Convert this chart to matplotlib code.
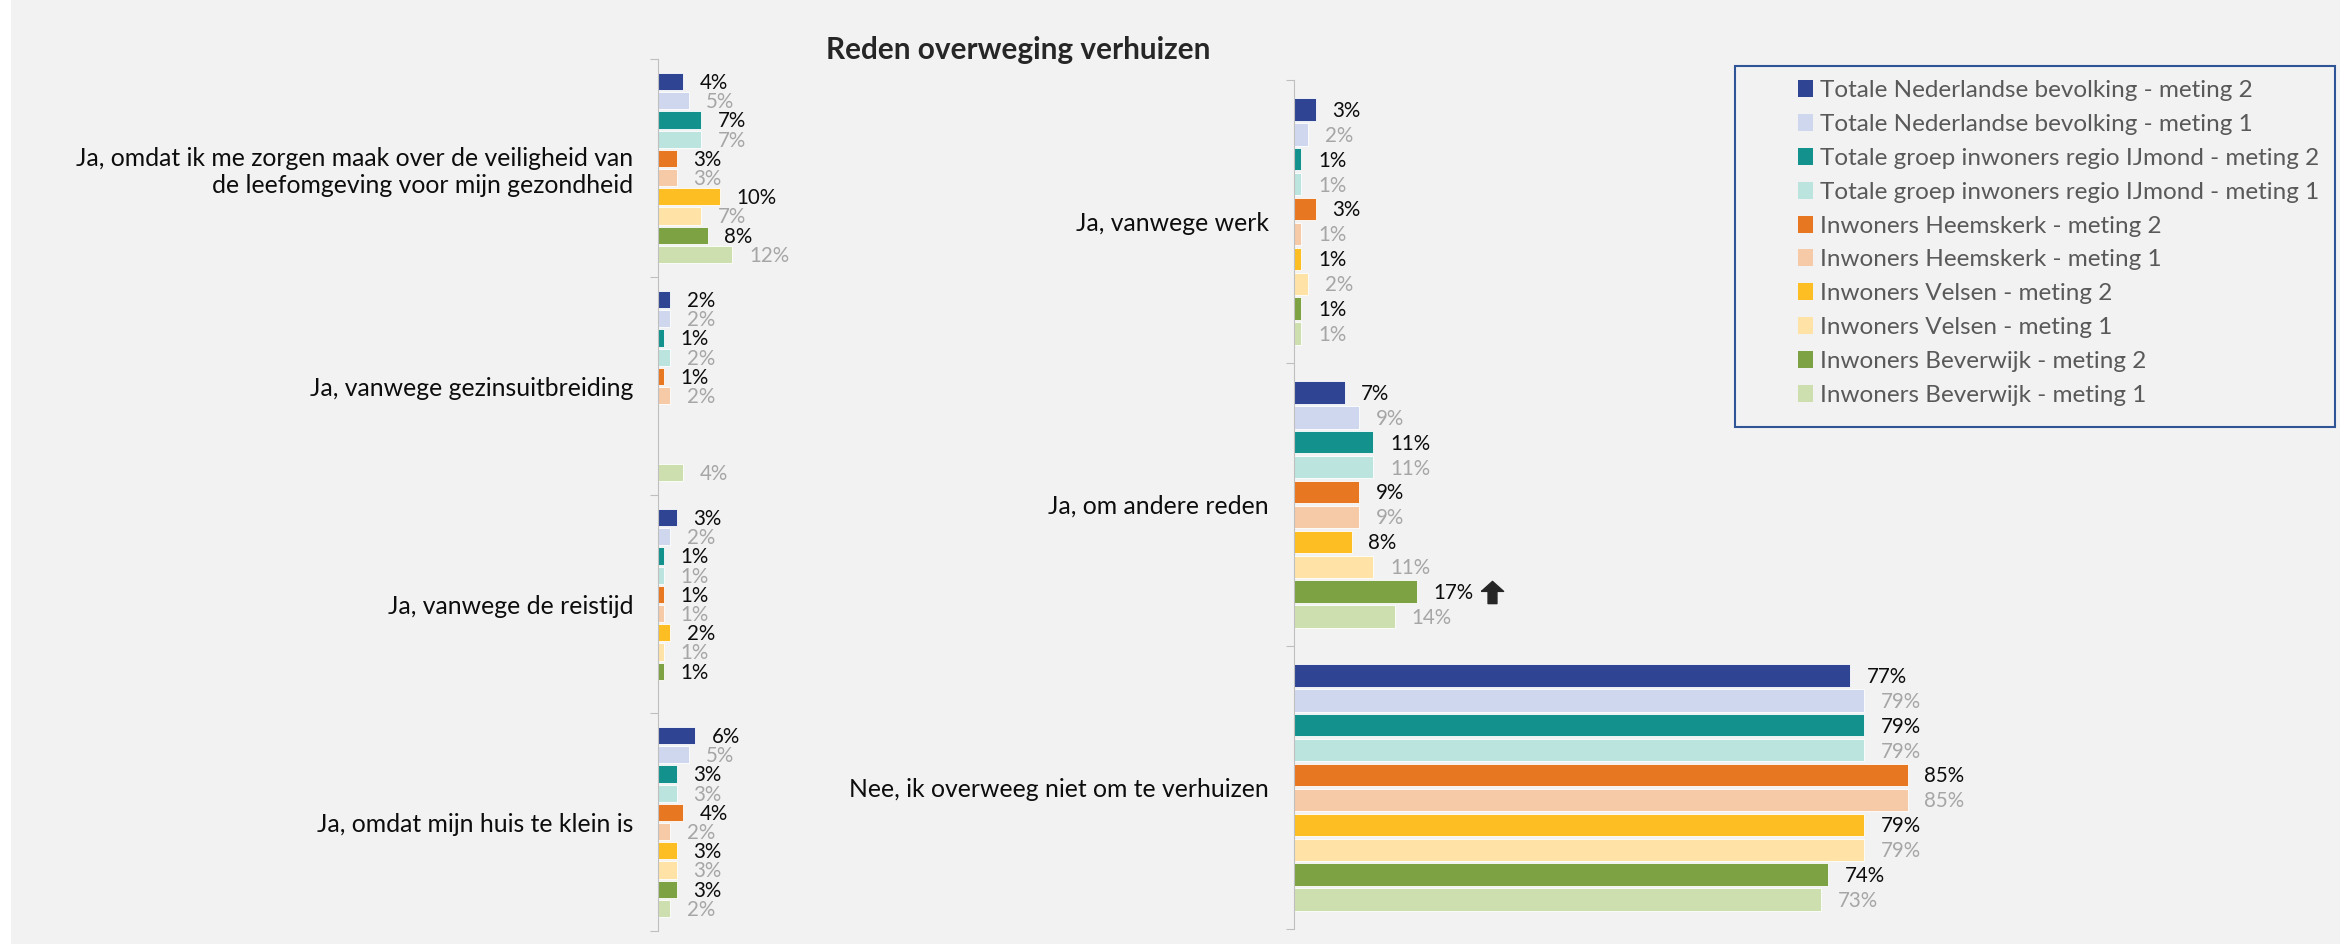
"""
Reden overweging verhuizen - staafdiagram (meting 1 vs meting 2)
"""
import numpy as np
import matplotlib
matplotlib.use('Agg')
import matplotlib.pyplot as plt
from matplotlib.patches import Patch, Rectangle
from matplotlib.path import Path
from matplotlib.transforms import offset_copy

plt.rcParams['font.family'] = ['Lato', 'DejaVu Sans']

# Series (top to bottom within each category)
series = [
    'Totale Nederlandse bevolking - meting 2',
    'Totale Nederlandse bevolking - meting 1',
    'Totale groep inwoners regio IJmond - meting 2',
    'Totale groep inwoners regio IJmond - meting 1',
    'Inwoners Heemskerk - meting 2',
    'Inwoners Heemskerk - meting 1',
    'Inwoners Velsen - meting 2',
    'Inwoners Velsen - meting 1',
    'Inwoners Beverwijk - meting 2',
    'Inwoners Beverwijk - meting 1',
]
colors = ['#2F4594', '#CFD7EF', '#13918D', '#BBE4DF', '#E87722',
          '#F6C9A7', '#FDBE23', '#FFE3A6', '#7DA243', '#CEDFAF']

# Left panel
cats_left = ['Ja, omdat ik me zorgen maak over de veiligheid van\nde leefomgeving voor mijn gezondheid',
             'Ja, vanwege gezinsuitbreiding',
             'Ja, vanwege de reistijd',
             'Ja, omdat mijn huis te klein is']
vals_veiligheid = [4, 5, 7, 7, 3, 3, 10, 7, 8, 12]
vals_gezin = [2, 2, 1, 2, 1, 2, np.nan, np.nan, np.nan, 4]
vals_reistijd = [3, 2, 1, 1, 1, 1, 2, 1, 1, np.nan]
vals_klein = [6, 5, 3, 3, 4, 2, 3, 3, 3, 2]

# Right panel
cats_right = ['Ja, vanwege werk', 'Ja, om andere reden', 'Nee, ik overweeg niet om te verhuizen']
vals_werk = [3, 2, 1, 1, 3, 1, 1, 2, 1, 1]
vals_andere = [7, 9, 11, 11, 9, 9, 8, 11, 17, 14]
vals_nee = [77, 79, 79, 79, 85, 85, 79, 79, 74, 73]

# significant increase marker: (panel, category index, series index)
arrow_at = ('right', 1, 8)

W, H = 2351, 944
fig = plt.figure(figsize=(W / 100, H / 100), dpi=100)
fig.patch.set_facecolor('white')
bg = Rectangle((11 / W, 0), (2340 - 11) / W, 1, transform=fig.transFigure,
               facecolor='#F2F2F2', edgecolor='none', zorder=-5)
fig.add_artist(bg)

slot = 1 / (10 + 1.36)


def draw_panel(rect, cats, data, name):
    ax = fig.add_axes(rect)
    ax.set_facecolor('none')
    n = len(cats)
    for i, row in enumerate(data):
        for j, v in enumerate(row):
            if np.isnan(v):
                continue
            y = i + (j - 4.5) * slot
            ax.barh(y, v, height=slot * 0.9, color=colors[j], edgecolor='white', linewidth=0.6)
            col = '#0D0D0D' if j % 2 == 0 else '#A6A6A6'
            ax.annotate(f'{v:.0f}%', xy=(v, y), xytext=(12, -1), textcoords='offset points',
                        ha='left', va='center', fontsize=14.8, color=col)
            if arrow_at == (name, i, j):
                arrow = Path([(-0.5, 0.05), (0, 0.5), (0.5, 0.05), (0.2, 0.05), (0.2, -0.5),
                              (-0.2, -0.5), (-0.2, 0.05), (-0.5, 0.05)])
                tr = offset_copy(ax.transData, fig=fig, x=75, y=0, units='dots')
                ax.plot(v, y, marker=arrow, markersize=16, color='#262626', transform=tr)
    ax.set_xlim(0, 100)
    ax.set_ylim(n - 0.5, -0.5)
    ax.set_yticks(np.arange(n + 1) - 0.5)
    ax.set_yticklabels([])
    ax.set_yticks(np.arange(n), minor=True)
    ax.set_yticklabels(cats, minor=True, fontsize=17.8, color='#0D0D0D')
    ax.tick_params(axis='y', which='major', length=6, color='#BFBFBF', direction='out')
    ax.tick_params(axis='y', which='minor', length=0, pad=18)
    ax.set_xticks([])
    for s in ['top', 'right', 'bottom']:
        ax.spines[s].set_visible(False)
    ax.spines['left'].set_color('#BFBFBF')
    return ax


draw_panel([658 / W, 1 - 931 / H, 620 / W, (931 - 59) / H], cats_left,
           [vals_veiligheid, vals_gezin, vals_reistijd, vals_klein], 'left')
draw_panel([1294 / W, 1 - 929 / H, 722 / W, (929 - 80) / H], cats_right,
           [vals_werk, vals_andere, vals_nee], 'right')

fig.text(1018 / W, 1 - 50 / H, 'Reden overweging verhuizen', ha='center', va='center',
         fontsize=21.4, fontweight='bold', color='#262626')

# Legend with its own frame
frame = Rectangle((1735 / W, 1 - 427 / H), (2335 - 1735) / W, (427 - 66) / H,
                  transform=fig.transFigure, facecolor='none',
                  edgecolor='#2F5597', linewidth=1.5, zorder=5)
fig.add_artist(frame)
handles = [Patch(facecolor=c, edgecolor='none') for c in colors]
fig.legend(handles, series, loc='upper left', bbox_to_anchor=(1798 / W, 1 - 80 / H),
           frameon=False, fontsize=17.5, labelcolor='#595959', handlelength=0.62,
           handleheight=0.7, handletextpad=0.3, labelspacing=0.53, borderpad=0,
           borderaxespad=0)

fig.savefig('out.png', dpi=100, facecolor=fig.get_facecolor())
